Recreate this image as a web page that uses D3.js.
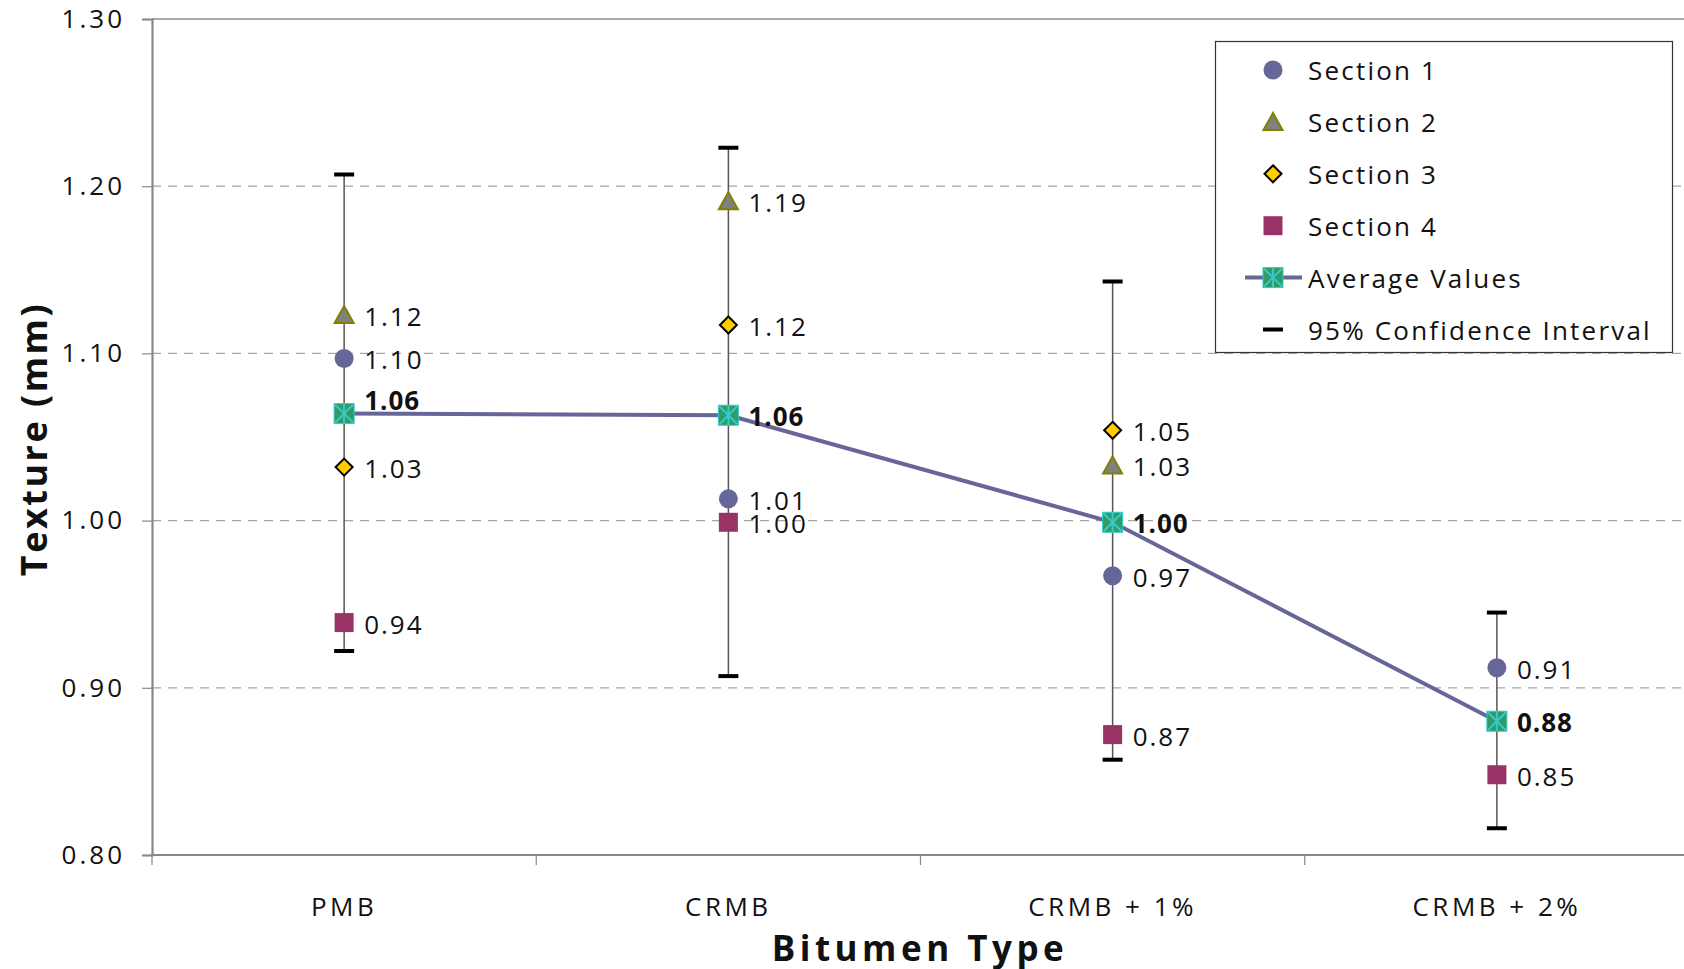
<!DOCTYPE html>
<html>
<head>
<meta charset="utf-8">
<script src="https://cdn.jsdelivr.net/npm/d3@7"></script>
<style>
  html, body { margin: 0; padding: 0; background: #fff; }
  svg { display: block; font-family: "Open Sans", "Noto Sans", sans-serif; }
</style>
</head>
<body>
<svg id="chart" width="1684" height="969"></svg>
<script>
// ---- data ----
const categories = ["PMB", "CRMB", "CRMB + 1%", "CRMB + 2%"];
const section1 = [1.097, 1.013, 0.967, 0.912];
const section2 = [1.123, 1.191, 1.033, null];
const section3 = [1.032, 1.117, 1.054, null];
const section4 = [0.939, 0.999, 0.872, 0.848];
const averageValues = [1.064, 1.063, 0.999, 0.880];
const ciHigh = [1.207, 1.223, 1.143, 0.945];
const ciLow = [0.922, 0.907, 0.857, 0.816];
const yTicks = [0.80, 0.90, 1.00, 1.10, 1.20, 1.30];
const legendLabels = ["Section 1", "Section 2", "Section 3", "Section 4", "Average Values", "95% Confidence Interval"];
const xTitle = "Bitumen Type";
const yTitle = "Texture (mm)";

// ---- layout ----
const W = 1684, H = 969;
const plot = { left: 152, right: 1689, top: 19, bottom: 855 };
const avgLabelDy = [-15, 0, 0, 0];

const svg = d3.select("#chart");
const x = d3.scaleBand().domain(categories).range([plot.left, plot.right]).padding(0);
const cx = c => x(c) + x.bandwidth() / 2;
const y = d3.scaleLinear().domain([0.8, 1.3]).range([plot.bottom, plot.top]);
const fmt = d3.format(".2f");

// gridlines
svg.append("g").selectAll("line")
  .data(yTicks.filter(t => t > 0.8 && t < 1.3))
  .join("line")
  .attr("x1", plot.left).attr("x2", W)
  .attr("y1", d => y(d)).attr("y2", d => y(d))
  .attr("stroke", "#a6a6a6").attr("stroke-width", 1.2)
  .attr("stroke-dasharray", "9,7");

// top frame line
svg.append("line")
  .attr("x1", plot.left).attr("x2", W)
  .attr("y1", y(1.3)).attr("y2", y(1.3))
  .attr("stroke", "#555").attr("stroke-width", 1.2);

// y axis
const yAxis = svg.append("g")
  .attr("transform", `translate(${plot.left},0)`)
  .call(d3.axisLeft(y).tickValues(yTicks).tickFormat(fmt).tickSize(10).tickPadding(17));
yAxis.select(".domain").attr("stroke", "#888").attr("stroke-width", 2.2);
yAxis.selectAll(".tick line").attr("stroke", "#888").attr("stroke-width", 1.2);
yAxis.selectAll(".tick text")
  .attr("font-size", 26).attr("fill", "#111").attr("letter-spacing", "3px")
  .attr("font-family", "'Open Sans', sans-serif");

// x axis
svg.append("line")
  .attr("x1", plot.left - 1).attr("x2", W)
  .attr("y1", plot.bottom).attr("y2", plot.bottom)
  .attr("stroke", "#888").attr("stroke-width", 2.2);
svg.append("g").selectAll("line")
  .data(categories)
  .join("line")
  .attr("x1", d => x(d)).attr("x2", d => x(d))
  .attr("y1", plot.bottom).attr("y2", plot.bottom + 10)
  .attr("stroke", "#888").attr("stroke-width", 1.2);
svg.append("g").selectAll("text")
  .data(categories)
  .join("text")
  .attr("x", d => cx(d)).attr("y", 906)
  .attr("text-anchor", "middle").attr("dominant-baseline", "central")
  .attr("font-size", 26).attr("letter-spacing", "3.5px").attr("fill", "#111")
  .text(d => d);

// axis titles
svg.append("text")
  .attr("x", (plot.left + W) / 2 + 2).attr("y", 947)
  .attr("text-anchor", "middle").attr("dominant-baseline", "central")
  .attr("font-size", 35).attr("font-weight", "bold").attr("letter-spacing", "4.5px")
  .attr("fill", "#111").text(xTitle);
svg.append("text")
  .attr("transform", `translate(33,${439}) rotate(-90)`)
  .attr("text-anchor", "middle").attr("dominant-baseline", "central")
  .attr("font-size", 36).attr("font-weight", "bold").attr("letter-spacing", "2.5px")
  .attr("fill", "#111").text(yTitle);

// error bars
const eb = svg.append("g");
categories.forEach((c, i) => {
  eb.append("line")
    .attr("x1", cx(c)).attr("x2", cx(c))
    .attr("y1", y(ciHigh[i])).attr("y2", y(ciLow[i]))
    .attr("stroke", "#555").attr("stroke-width", 1.5);
  [ciHigh[i], ciLow[i]].forEach(v => {
    eb.append("line")
      .attr("x1", cx(c) - 10).attr("x2", cx(c) + 10)
      .attr("y1", y(v)).attr("y2", y(v))
      .attr("stroke", "#000").attr("stroke-width", 4);
  });
});

// average line
svg.append("path")
  .datum(averageValues)
  .attr("d", d3.line().x((d, i) => cx(categories[i])).y(d => y(d)))
  .attr("fill", "none").attr("stroke", "#666699").attr("stroke-width", 4);

// marker shapes
const shapes = {
  circle: g => g.append("circle").attr("r", 9.5).attr("fill", "#666699"),
  triangle: g => g.append("path").attr("d", "M0,-9 L9.5,8 L-9.5,8 Z")
    .attr("fill", "#808080").attr("stroke", "#808000").attr("stroke-width", 2),
  diamond: g => g.append("path").attr("d", "M0,-8.5 L8.5,0 L0,8.5 L-8.5,0 Z")
    .attr("fill", "#FFCC00").attr("stroke", "#000").attr("stroke-width", 2),
  square: g => g.append("rect").attr("x", -9.5).attr("y", -9.5).attr("width", 19).attr("height", 19)
    .attr("fill", "#993366"),
  avg: g => {
    g.append("rect").attr("x", -10).attr("y", -10).attr("width", 20).attr("height", 20)
      .attr("fill", "#339966").attr("stroke", "#33CCCC").attr("stroke-width", 1);
    g.append("path").attr("d", "M-9,-9 L9,9 M9,-9 L-9,9 M0,-10 L0,10")
      .attr("stroke", "#33CCCC").attr("stroke-width", 2);
  },
  ci: g => g.append("line").attr("x1", -10).attr("x2", 10).attr("stroke", "#000").attr("stroke-width", 4)
};

const series = [
  { vals: section1, shape: "circle" },
  { vals: section2, shape: "triangle" },
  { vals: section3, shape: "diamond" },
  { vals: section4, shape: "square" }
];

const mg = svg.append("g");
series.forEach(s => {
  s.vals.forEach((v, i) => {
    if (v == null) return;
    const g = mg.append("g").attr("transform", `translate(${cx(categories[i])},${y(v)})`);
    shapes[s.shape](g);
    mg.append("text")
      .attr("x", cx(categories[i]) + 20).attr("y", y(v) + 1)
      .attr("dominant-baseline", "central")
      .attr("font-size", 26).attr("letter-spacing", "2px").attr("fill", "#111")
      .text(fmt(v));
  });
});
averageValues.forEach((v, i) => {
  const g = mg.append("g").attr("transform", `translate(${cx(categories[i])},${y(v)})`);
  shapes.avg(g);
  mg.append("text")
    .attr("x", cx(categories[i]) + 20).attr("y", y(v) + avgLabelDy[i] + 1)
    .attr("dominant-baseline", "central")
    .attr("font-size", 26).attr("font-weight", "bold").attr("letter-spacing", "1px").attr("fill", "#111")
    .text(fmt(v));
});

// legend
const lg = svg.append("g");
lg.append("rect").attr("x", 1215.5).attr("y", 41.5).attr("width", 457).attr("height", 311)
  .attr("fill", "#fff").attr("stroke", "#333").attr("stroke-width", 1.2);
const legendShapes = ["circle", "triangle", "diamond", "square", "avg", "ci"];
legendLabels.forEach((lab, i) => {
  const ly = 70 + i * 51.9;
  const g = lg.append("g").attr("transform", `translate(1273,${ly})`);
  if (legendShapes[i] === "avg") {
    g.append("line").attr("x1", -28).attr("x2", 29).attr("stroke", "#666699").attr("stroke-width", 4);
  }
  shapes[legendShapes[i]](g);
  lg.append("text").attr("x", 1308).attr("y", ly)
    .attr("dominant-baseline", "central")
    .attr("font-size", 26).attr("letter-spacing", "2.2px").attr("fill", "#111")
    .text(lab);
});
</script>
</body>
</html>
